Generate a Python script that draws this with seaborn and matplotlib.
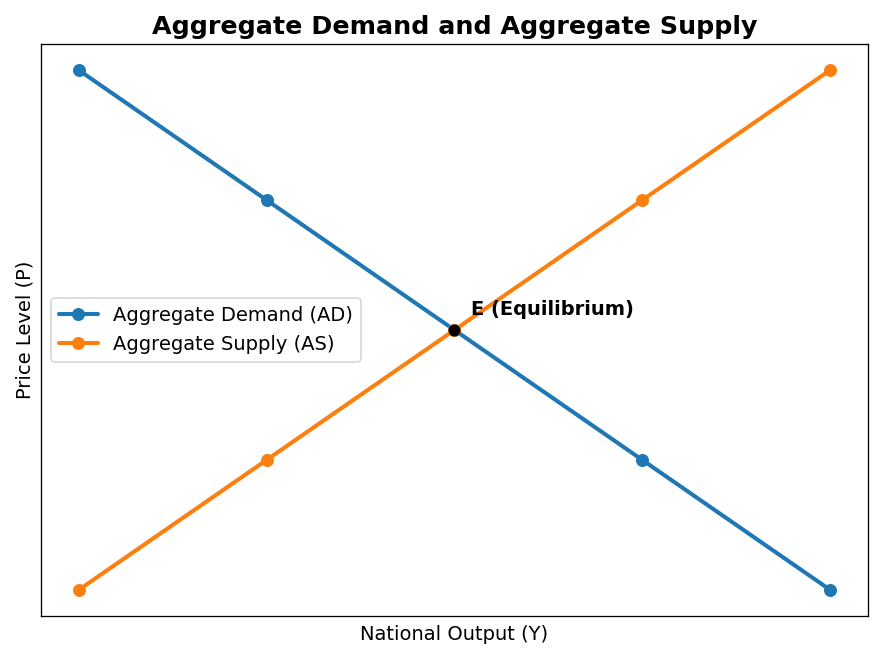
"""Aggregate demand / aggregate supply diagram."""

import matplotlib

matplotlib.use("Agg")
import matplotlib.pyplot as plt
import pandas as pd
import seaborn as sns

output = [1, 2, 3, 4, 5]
price_ad = [5, 4, 3, 2, 1]
price_as = [1, 2, 3, 4, 5]
equilibrium = (3, 3)

BLUE = "#1f77b4"
ORANGE = "#ff7f0e"

sns.set_style("white", rc={
    "text.color": "black",
    "axes.labelcolor": "black",
    "axes.edgecolor": "black",
    "axes.linewidth": 0.9,
})
plt.rcParams["font.family"] = ["DejaVu Sans"]

df = pd.DataFrame({"Y": output, "AD": price_ad, "AS": price_as})

DPI = 117
fig, ax = plt.subplots(figsize=(882 / DPI, 657 / DPI), dpi=DPI)
fig.subplots_adjust(left=0.0465, right=0.984, top=0.933, bottom=0.0624)

sns.lineplot(data=df, x="Y", y="AD", ax=ax, color=BLUE, linewidth=2.5,
             marker="o", markersize=8, markeredgecolor=BLUE, markeredgewidth=0,
             label="Aggregate Demand (AD)")
sns.lineplot(data=df, x="Y", y="AS", ax=ax, color=ORANGE, linewidth=2.5,
             marker="o", markersize=8, markeredgecolor=ORANGE, markeredgewidth=0,
             label="Aggregate Supply (AS)")

ax.scatter([equilibrium[0]], [equilibrium[1]], color="black", s=40, zorder=5)
ax.annotate("E (Equilibrium)", xy=equilibrium, xytext=(10, 7),
            textcoords="offset points", fontsize=12, fontweight="bold",
            ha="left", va="bottom")

ax.set_title("Aggregate Demand and Aggregate Supply", fontsize=15.6, fontweight="bold")
ax.set_xlabel("National Output (Y)", fontsize=12, labelpad=5.5)
ax.set_ylabel("Price Level (P)", fontsize=12)
ax.set_xticks([])
ax.set_yticks([])
ax.legend(loc="center left", fontsize=12, frameon=True)

fig.savefig("out.png", dpi=DPI)
